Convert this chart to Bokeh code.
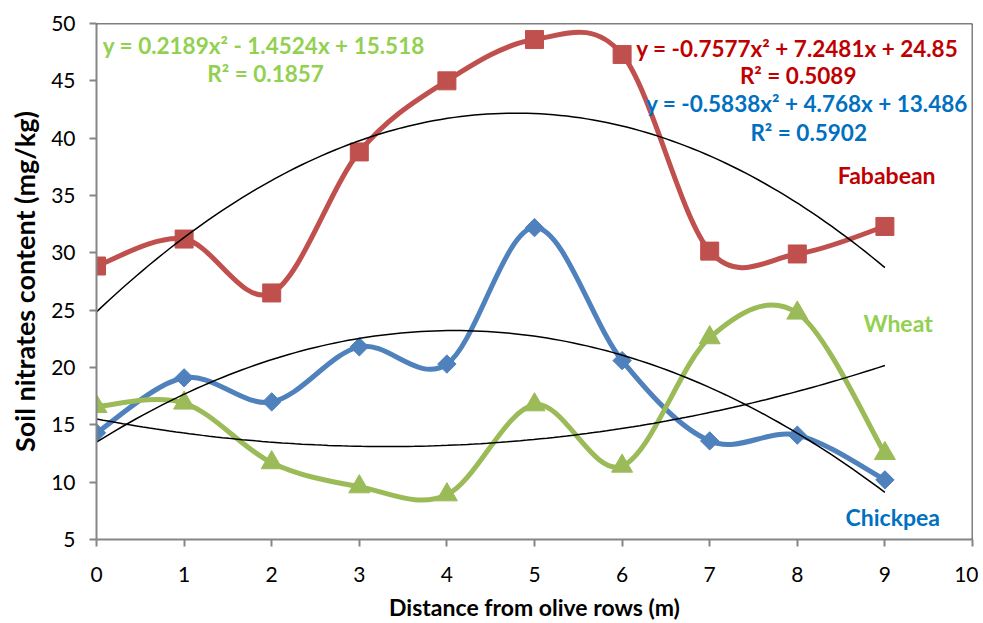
import numpy as np
from bokeh.plotting import figure
from bokeh.models import ColumnDataSource, Span, Label, FixedTicker
from bokeh.embed import file_html
from bokeh.resources import INLINE

distance = [0, 1, 2, 3, 4, 5, 6, 7, 8, 9]
fababean = [28.85, 31.2, 26.5, 38.8, 45.0, 48.6, 47.3, 30.15, 29.9, 32.3]
chickpea = [14.3, 19.1, 17.0, 21.8, 20.3, 32.2, 20.6, 13.6, 14.1, 10.2]
wheat = [16.6, 16.9, 11.7, 9.6, 8.9, 16.75, 11.4, 22.6, 24.75, 12.5]

fab_coef = [-0.7577, 7.2481, 24.85]
chk_coef = [-0.5838, 4.768, 13.486]
wht_coef = [0.2189, -1.4524, 15.518]

x_ticks = list(range(0, 11))
y_ticks = list(range(5, 51, 5))

FONT = "Lato"

p = figure(width=978, height=623, output_backend="svg", toolbar_location=None,
           x_range=(0, 10), y_range=(5, 50),
           min_border_left=96, min_border_right=6, min_border_top=23, min_border_bottom=83)
p.outline_line_color = None
p.xgrid.visible = False
p.ygrid.visible = False
p.background_fill_color = "white"

for ax in (p.xaxis[0], p.yaxis[0]):
    ax.axis_line_color = "#868686"
    ax.axis_line_width = 2
    ax.major_tick_line_color = "#868686"
    ax.major_tick_line_width = 2
    ax.major_tick_out = 7
    ax.major_tick_in = 0
    ax.minor_tick_line_color = None
    ax.major_label_text_font = FONT
    ax.major_label_text_font_size = "21px"
    ax.major_label_text_color = "black"
    ax.axis_label_text_font = FONT
    ax.axis_label_text_font_style = "bold"
    ax.axis_label_text_color = "black"

p.xaxis.ticker = FixedTicker(ticks=x_ticks)
p.yaxis.ticker = FixedTicker(ticks=y_ticks)
p.xaxis.axis_label = "Distance from olive rows (m)"
p.yaxis.axis_label = "Soil nitrates content (mg/kg)"
p.xaxis.axis_label_text_font_size = "23px"
p.yaxis.axis_label_text_font_size = "27px"
p.xaxis.major_label_standoff = 20
p.yaxis.major_label_standoff = 14
p.xaxis.axis_label_standoff = 8
p.yaxis.axis_label_standoff = 7

p.add_layout(Span(location=10, dimension="height", line_color="black", line_width=1.5))
p.add_layout(Span(location=50, dimension="width", line_color="black", line_width=1.5))


def smooth_source(xs, ys):
    xs = np.asarray(xs, float)
    ys = np.asarray(ys, float)
    n = len(xs)
    d = dict(x0=[], y0=[], x1=[], y1=[], cx0=[], cy0=[], cx1=[], cy1=[])
    for i in range(n - 1):
        im1 = max(i - 1, 0)
        ip2 = min(i + 2, n - 1)
        d["x0"].append(xs[i]); d["y0"].append(ys[i])
        d["x1"].append(xs[i + 1]); d["y1"].append(ys[i + 1])
        d["cx0"].append(xs[i] + (xs[i + 1] - xs[im1]) / 6)
        d["cy0"].append(ys[i] + (ys[i + 1] - ys[im1]) / 6)
        d["cx1"].append(xs[i + 1] - (xs[ip2] - xs[i]) / 6)
        d["cy1"].append(ys[i + 1] - (ys[ip2] - ys[i]) / 6)
    return ColumnDataSource(d)


series = [
    (fababean, "#C0504D", "square", 18, 0),
    (chickpea, "#4F81BD", "square", 13, np.pi / 4),
    (wheat, "#9BBB59", "triangle", 21, 0),
]
for ys, col, marker, size, ang in series:
    p.bezier(x0="x0", y0="y0", x1="x1", y1="y1", cx0="cx0", cy0="cy0", cx1="cx1", cy1="cy1",
             source=smooth_source(distance, ys), line_color=col, line_width=5)
    p.scatter(distance, ys, marker=marker, size=size, angle=ang,
              fill_color=col, line_color=col)

xt = np.linspace(0, 9, 120)
for coef in (fab_coef, chk_coef, wht_coef):
    p.line(xt, np.polyval(coef, xt), line_color="black", line_width=1.5)

labels = [
    ("y = 0.2189x² - 1.4524x + 15.518", 1.91, 48.08, "#92D050", "22.5px"),
    ("R² = 0.1857", 1.93, 45.64, "#92D050", "22.5px"),
    ("y = -0.7577x² + 7.2481x + 24.85", 8.0, 47.82, "#C00000", "22.5px"),
    ("R² = 0.5089", 8.01, 45.47, "#C00000", "22.5px"),
    ("y = -0.5838x² + 4.768x + 13.486", 8.11, 43.03, "#0070C0", "22.5px"),
    ("R² = 0.5902", 8.13, 40.5, "#0070C0", "22.5px"),
    ("Fababean", 9.02, 36.77, "#C00000", "23px"),
    ("Wheat", 9.15, 23.89, "#92D050", "23px"),
    ("Chickpea", 9.09, 7.0, "#0070C0", "23px"),
]
for txt, lx, ly, col, fs in labels:
    p.add_layout(Label(x=lx, y=ly, text=txt, text_color=col, text_font=FONT,
                       text_font_style="bold", text_font_size=fs,
                       text_align="center", text_baseline="middle"))

open("out.html", "w").write(file_html(p, INLINE))
